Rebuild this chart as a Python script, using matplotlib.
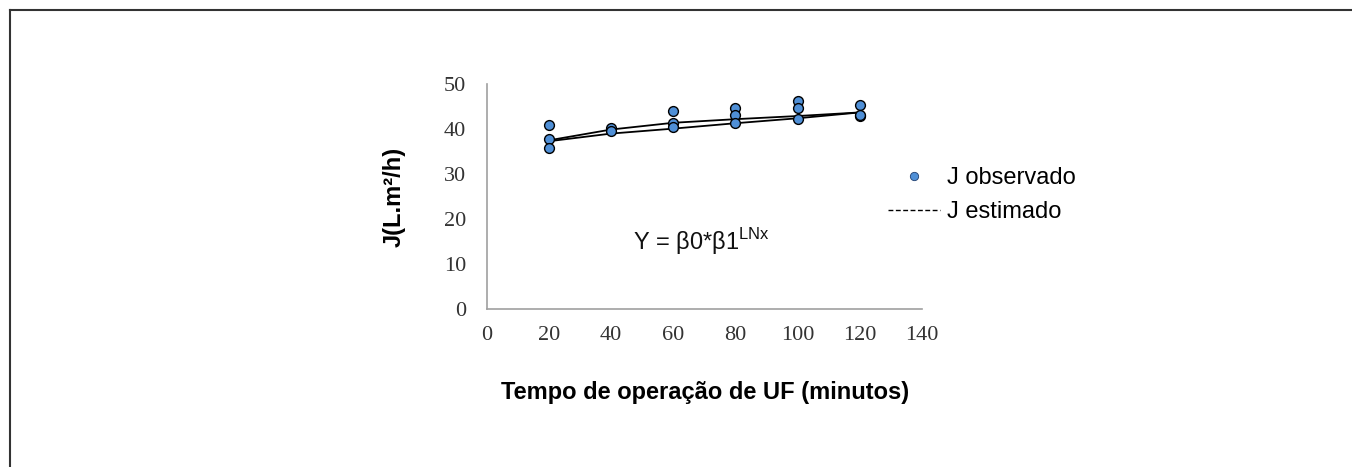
import matplotlib.pyplot as plt
from matplotlib.lines import Line2D

plt.rcParams['mathtext.fontset'] = 'custom'
plt.rcParams['mathtext.rm'] = 'Liberation Sans'

# observed flux points (time in minutes, J in L/m2.h)
obs_time = [20, 20, 20, 40, 40, 60, 60, 60, 80, 80, 80, 100, 100, 100, 120, 120, 120]
obs_flux = [40.9, 37.7, 35.9, 40.2, 39.6, 44.1, 41.4, 40.5, 44.6, 43.1, 41.4,
            46.3, 44.7, 42.2, 45.3, 43.0, 43.2]

# estimated curve and trend line
est_time = [20, 40, 60, 80, 100, 120]
est_flux = [37.5, 39.9, 41.4, 42.2, 42.9, 43.7]
trend_flux = [37.3, 39.0, 40.1, 41.3, 42.4, 43.7]

x_ticks = [0, 20, 40, 60, 80, 100, 120, 140]
y_ticks = [0, 10, 20, 30, 40, 50]

fig = plt.figure(figsize=(13.52, 4.67), dpi=100)
ax = fig.add_axes([0.360, 0.338, 0.322, 0.482])

ax.plot(est_time, est_flux, color='black', lw=1.3)
ax.plot(est_time, trend_flux, color='black', lw=1.3)
ax.scatter(obs_time, obs_flux, s=50, color='#4f8fd6', edgecolor='black',
           linewidth=1.0, zorder=3)

ax.set_xlim(0, 140)
ax.set_ylim(0, 50)
ax.set_xticks(x_ticks)
ax.set_yticks(y_ticks)
ax.tick_params(length=0, labelsize=16)
ax.tick_params(axis='x', pad=12)
ax.tick_params(axis='y', pad=15)
for lab in ax.get_xticklabels() + ax.get_yticklabels():
    lab.set_fontfamily('Liberation Serif')
    lab.set_color('#333333')
for s in ['top', 'right']:
    ax.spines[s].set_visible(False)
for s in ['left', 'bottom']:
    ax.spines[s].set_color('#a0a0a0')
    ax.spines[s].set_linewidth(1.2)

ax.set_xlabel('Tempo de operação de UF (minutos)', fontsize=17,
              fontweight='bold', family='Liberation Sans')
ax.set_ylabel('J(L.m²/h)', fontsize=17, fontweight='bold',
              family='Liberation Sans')
ax.xaxis.set_label_coords(0.502, -0.32)
ax.yaxis.set_label_coords(-0.186, 0.5)

ax.text(47, 15.1, r'Y = β0*β1$^{\mathrm{LNx}}$', fontsize=17, va='center',
        family='Liberation Sans', color='#111111')

handles = [
    Line2D([], [], marker='o', ls='none', markersize=6,
           markerfacecolor='#4f8fd6', markeredgecolor='#1f3f70', markeredgewidth=0.6),
    Line2D([], [], color='black', ls=(0, (3.5, 1.8)), lw=1.0),
]
fig.legend(handles, ['J observado', 'J estimado'], loc='center left',
           bbox_to_anchor=(0.657, 0.582), frameon=False,
           prop={'family': 'Liberation Sans', 'size': 17},
           handlelength=2.2, handletextpad=0.3, labelspacing=0.5,
           borderpad=0, borderaxespad=0)

# frame around the figure (left and top edges)
fig.add_artist(Line2D([0.0072, 0.0072], [0.0, 0.979], color='#333333', lw=1.5,
                      transform=fig.transFigure))
fig.add_artist(Line2D([0.0072, 1.0], [0.979, 0.979], color='#333333', lw=1.5,
                      transform=fig.transFigure))

fig.savefig('out.png', dpi=100)
